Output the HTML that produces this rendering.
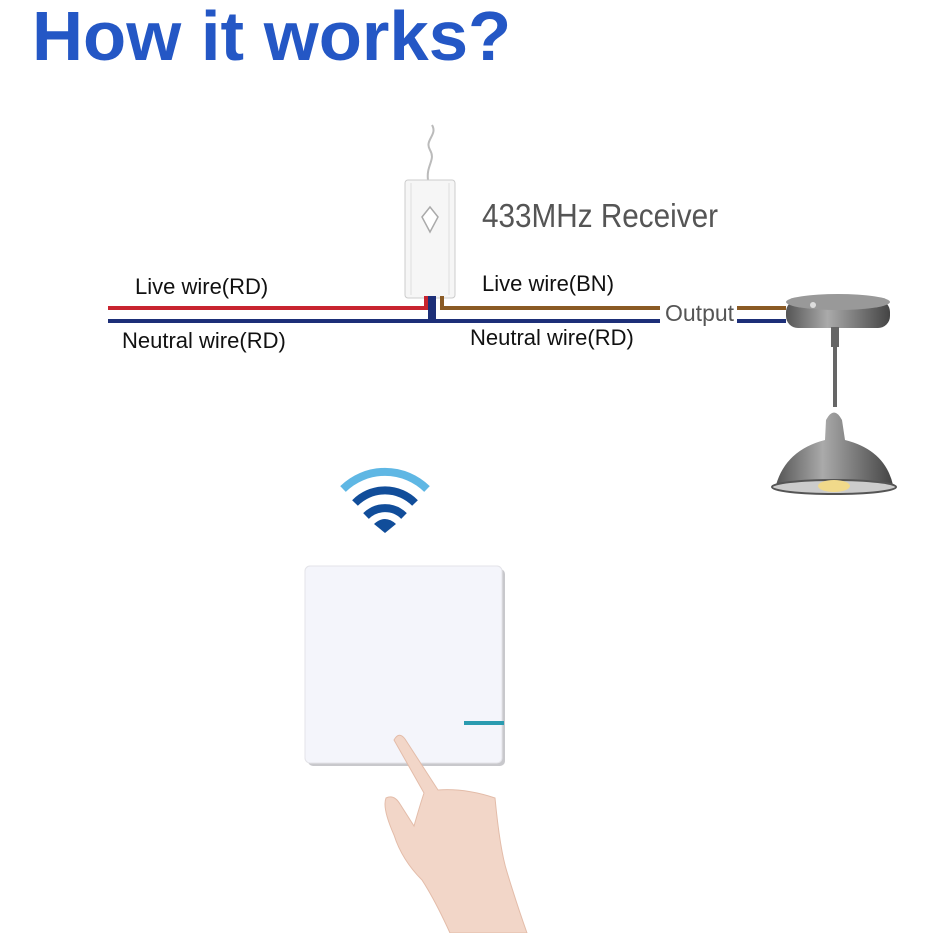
<!DOCTYPE html>
<html><head><meta charset="utf-8"><style>
html,body{margin:0;padding:0;background:#fff;}
body{width:933px;height:933px;position:relative;overflow:hidden;font-family:"Liberation Sans",sans-serif;}
.t{position:absolute;white-space:nowrap;transform-origin:left top;}
</style></head><body>
<div class="t" style="left:32px;top:-4px;font-size:70px;font-weight:bold;color:#2457c5;transform:scaleX(1.01);">How it works?</div>
<svg width="933" height="933" style="position:absolute;left:0;top:0">
  <path d="M428 180 C426 165 436 160 430 150 C424 140 438 135 432 125" stroke="#bbb" stroke-width="2" fill="none"/>
  <rect x="405" y="180" width="50" height="118" rx="3" fill="#f6f6f6" stroke="#ccc"/>
  <line x1="411" y1="183" x2="411" y2="295" stroke="#ddd"/>
  <line x1="449" y1="183" x2="449" y2="295" stroke="#ddd"/>
  <path d="M430 207 L438 217 L430 232 L422 217 Z" fill="#fff" stroke="#aaa" stroke-width="1.5"/>
  <path d="M108 308 H426 V296" stroke="#c8242f" stroke-width="4" fill="none"/>
  <path d="M108 321 H430 V296" stroke="#1d2f78" stroke-width="4" fill="none"/>
  <path d="M434 296 V321 H660" stroke="#1d2f78" stroke-width="4" fill="none"/>
  <path d="M442 296 V308 H660" stroke="#8a5a24" stroke-width="4" fill="none"/>
  <line x1="737" y1="308" x2="786" y2="308" stroke="#8a5a24" stroke-width="4"/>
  <line x1="737" y1="321" x2="786" y2="321" stroke="#1d2f78" stroke-width="4"/>
  <defs>
    <linearGradient id="m" x1="0" x2="1"><stop offset="0" stop-color="#555"/><stop offset=".4" stop-color="#aaa"/><stop offset=".7" stop-color="#777"/><stop offset="1" stop-color="#444"/></linearGradient>
  </defs>
  <rect x="786" y="300" width="104" height="28" rx="12" fill="url(#m)"/>
  <ellipse cx="838" cy="302" rx="52" ry="8" fill="#999"/>
  <circle cx="813" cy="305" r="3" fill="#ddd"/>
  <rect x="831" y="327" width="8" height="20" fill="#666"/>
  <rect x="833" y="345" width="4" height="62" fill="#666"/>
  <path d="M826 420 Q834 405 842 420 L845 440 Q885 450 893 485 L776 485 Q786 450 825 440 Z" fill="url(#m)"/>
  <ellipse cx="834" cy="487" rx="62" ry="7" fill="#ccc" stroke="#555" stroke-width="2"/>
  <ellipse cx="834" cy="486" rx="16" ry="6" fill="#f1d98a"/>
  <path d="M343 489 A60 60 0 0 1 427 489" stroke="#5fb7e4" stroke-width="8" fill="none"/>
  <path d="M355 503 A42 42 0 0 1 415 503" stroke="#114d9a" stroke-width="8" fill="none"/>
  <path d="M366 516 A27 27 0 0 1 404 516" stroke="#114d9a" stroke-width="8" fill="none"/>
  <path d="M374 524 Q385 514 396 524 L385 533 Z" fill="#114d9a"/>
  <rect x="308" y="569" width="197" height="197" rx="5" fill="#c8c8cc"/>
  <rect x="305" y="566" width="197" height="197" rx="5" fill="#f4f5fb" stroke="#e3e3e8"/>
  <rect x="464" y="721" width="40" height="4" fill="#2a9bb0"/>
  <path d="M394 740 Q399 731 405 739 L438 790 Q465 788 495 798 Q500 850 507 872 Q517 905 527 933 L450 933 Q435 900 422 880 Q402 860 394 835 Q382 808 386 798 Q394 794 400 804 L414 826 Q420 805 424 793 Z" fill="#f2d6c8" stroke="#e3bca9" stroke-width="1"/>
</svg>
<div class="t" style="left:482px;top:197px;font-size:33px;color:#555;transform:scaleX(0.9);">433MHz Receiver</div>
<div class="t" style="left:135px;top:274px;font-size:22px;color:#111;">Live wire(RD)</div>
<div class="t" style="left:122px;top:328px;font-size:22px;color:#111;">Neutral wire(RD)</div>
<div class="t" style="left:482px;top:271px;font-size:22px;color:#111;">Live wire(BN)</div>
<div class="t" style="left:470px;top:325px;font-size:22px;color:#111;">Neutral wire(RD)</div>
<div class="t" style="left:665px;top:300px;font-size:23px;color:#555;">Output</div>
</body></html>
